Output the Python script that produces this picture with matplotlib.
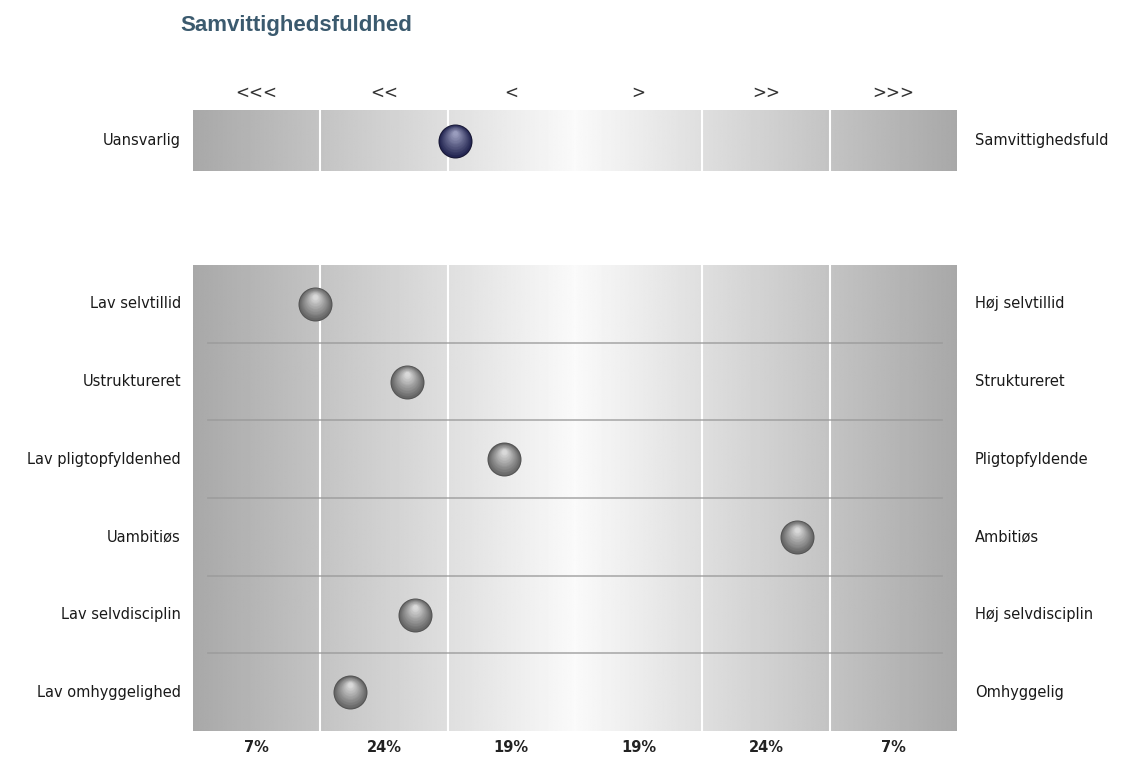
import numpy as np
import matplotlib
matplotlib.use("Agg")
import matplotlib.pyplot as plt
from matplotlib.transforms import ScaledTranslation

title = "Samvittighedsfuldhed"
arrows = ["<<<", "<<", "<", ">", ">>", ">>>"]
percents = ["7%", "24%", "19%", "19%", "24%", "7%"]

main_left = "Uansvarlig"
main_right = "Samvittighedsfuld"
main_score = 2.06  # position in column units (0-6)

left_labels = ["Lav selvtillid", "Ustruktureret", "Lav pligtopfyldenhed",
               "Uambitiøs", "Lav selvdisciplin", "Lav omhyggelighed"]
right_labels = ["Høj selvtillid", "Struktureret", "Pligtopfyldende",
                "Ambitiøs", "Høj selvdisciplin", "Omhyggelig"]
scores = [0.96, 1.68, 2.44, 4.74, 1.74, 1.23]

W, H = 1121, 757
fig = plt.figure(figsize=(W / 100, H / 100), dpi=100)
fig.patch.set_facecolor("white")

x0, x1 = 193, 957


def make_ax(ytop, ybot):
    ax = fig.add_axes([x0 / W, 1 - ybot / H, (x1 - x0) / W, (ybot - ytop) / H])
    ax.set_axis_off()
    return ax


def gradient(ax, ymin, ymax):
    xs = np.linspace(0, 6, 600)
    t = 1 - np.abs(xs - 3) / 3
    g = 0.66 + 0.32 * t
    img = np.tile(g, (2, 1))
    ax.imshow(img, cmap="gray", vmin=0, vmax=1, extent=[0, 6, ymin, ymax],
              aspect="auto", interpolation="bilinear", zorder=0)
    for b in [1, 2, 4, 5]:
        ax.axvline(b, color="white", lw=1.5, zorder=1)
    ax.axvline(3, color="white", lw=1.2, alpha=0.4, zorder=1)


def ball(ax, x, y, dark, body, light, size=34):
    # layered circles give a shaded sphere look
    r = size / 2
    ax.scatter(x, y, s=(size * 72 / 100) ** 2, color=dark, zorder=5, lw=0)
    n = 16
    for k in range(0, n + 1):
        f = k / n
        col = np.array(body) * (1 - f) + np.array(light) * f
        rr = r * (0.94 - 0.80 * f)
        dy = (r * 0.42 * f) / 100
        tr = ax.transData + ScaledTranslation(0, dy, fig.dpi_scale_trans)
        ax.scatter(x, y, s=(2 * rr * 72 / 100) ** 2, color=col, zorder=6 + k,
                   lw=0, transform=tr)


gray_dark = (0.33, 0.33, 0.33)
gray_body = (0.40, 0.40, 0.40)
gray_light = (0.85, 0.85, 0.85)
navy_dark = (0.09, 0.09, 0.20)
navy_body = (0.14, 0.15, 0.32)
navy_light = (0.60, 0.61, 0.74)

# top band
ax_top = make_ax(110, 171)
gradient(ax_top, 0, 1)
ax_top.set_xlim(0, 6)
ax_top.set_ylim(0, 1)
ball(ax_top, main_score, 0.5, navy_dark, navy_body, navy_light)

# lower band
ax = make_ax(265, 731)
gradient(ax, 0, 6)
ax.set_xlim(0, 6)
ax.set_ylim(6, 0)
for b in range(1, 6):
    ax.axhline(b, xmin=0.02, xmax=0.98, color="#999999", lw=1.2, alpha=0.8, zorder=2)
rows = np.arange(len(scores)) + 0.5
for xv, yv in zip(scores, rows):
    ball(ax, xv, yv, gray_dark, gray_body, gray_light)

# texts
fig.text(180 / W, 1 - 25 / H, title, fontsize=16, fontweight="bold",
         color="#3b5a6e", family="Liberation Sans", va="center", ha="left")

col_w = (x1 - x0) / 6
for i, a in enumerate(arrows):
    fig.text((x0 + col_w * (i + 0.5)) / W, 1 - 93 / H, a, fontsize=12,
             color="#333333", ha="center", va="center")
for i, p in enumerate(percents):
    fig.text((x0 + col_w * (i + 0.5)) / W, 1 - 747 / H, p, fontsize=10.5,
             fontweight="bold", color="#222222", ha="center", va="center")

fig.text(181 / W, 1 - 141 / H, main_left, fontsize=10.5, color="#1a1a1a",
         ha="right", va="center")
fig.text(975 / W, 1 - 141 / H, main_right, fontsize=10.5, color="#1a1a1a",
         ha="left", va="center")

row_h = (731 - 265) / 6
for i, (l, r) in enumerate(zip(left_labels, right_labels)):
    yp = 1 - (265 + row_h * (i + 0.5)) / H
    fig.text(181 / W, yp, l, fontsize=10.5, color="#1a1a1a", ha="right", va="center")
    fig.text(975 / W, yp, r, fontsize=10.5, color="#1a1a1a", ha="left", va="center")

fig.savefig("out.png", dpi=100, facecolor="white")
